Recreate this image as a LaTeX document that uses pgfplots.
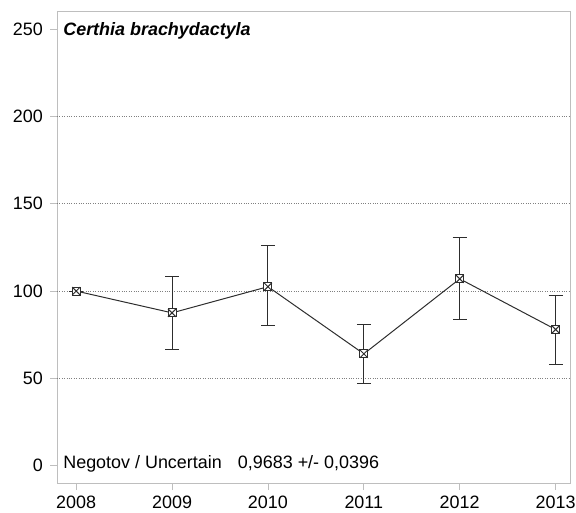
\documentclass[border=0pt]{standalone}
\usepackage{pgfplots}
\pgfplotsset{compat=1.18}
\usepackage{fontspec}
\setmainfont{Liberation Sans}
\definecolor{boxgray}{RGB}{190,190,190}
\definecolor{linegray}{RGB}{45,45,45}
\pgfdeclareplotmark{sqx}{%
  \pgfpathrectangle{\pgfpoint{-\pgfplotmarksize}{-\pgfplotmarksize}}{\pgfpoint{2\pgfplotmarksize}{2\pgfplotmarksize}}%
  \pgfusepathqfillstroke
  \pgfpathmoveto{\pgfpoint{-\pgfplotmarksize}{-\pgfplotmarksize}}%
  \pgfpathlineto{\pgfpoint{\pgfplotmarksize}{\pgfplotmarksize}}%
  \pgfpathmoveto{\pgfpoint{-\pgfplotmarksize}{\pgfplotmarksize}}%
  \pgfpathlineto{\pgfpoint{\pgfplotmarksize}{-\pgfplotmarksize}}%
  \pgfusepathqstroke}
\begin{document}
\fontsize{18}{21}\selectfont
\begin{tikzpicture}
\begin{axis}[
  name=ax,
  scale only axis,
  width=513bp, height=472bp,
  xmin=2007.8, xmax=2013.15,
  ymin=-10, ymax=260.5,
  xtick={2008,...,2013},
  ytick={0,50,...,250},
  extra y ticks={50,100,150,200},
  extra y tick labels={},
  extra y tick style={grid=major, major tick length=0pt},
  grid style={dotted, gray, line width=0.7pt},
  x tick label style={/pgf/number format/1000 sep={}},
  /pgf/number format/assume math mode=true,
  tick align=outside,
  major tick length=7bp,
  tick style={boxgray, line width=0.8pt},
  axis line style={boxgray, line width=0.8pt},
  xtick pos=bottom, ytick pos=left,
  tick label style={font=\fontsize{18}{21}\selectfont, black},
  yticklabel style={xshift=-1bp},
]
\addplot+[linegray, line width=1pt, mark=sqx, mark size=4pt,
  mark options={linegray, fill=white, line width=1pt},
  error bars/.cd, y dir=both, y explicit,
  error bar style={linegray, line width=1pt},
  error mark options={rotate=90, mark size=7bp, linegray, line width=1pt}]
coordinates {
  (2008,100) +- (0,0)
  (2009,87.5) += (0,21) -= (0,21)
  (2010,102.5) += (0,23.5) -= (0,22.5)
  (2011,64) += (0,17) -= (0,17)
  (2012,107) += (0,23.5) -= (0,23.5)
  (2013,78) += (0,19.5) -= (0,20)
};
\node[anchor=north west, font=\fontsize{18}{21}\selectfont\bfseries\itshape, inner sep=0pt]
  at (rel axis cs:0.012,0.975) {Certhia brachydactyla};
\node[anchor=base west, font=\fontsize{18}{21}\selectfont, inner sep=0pt]
  at (rel axis cs:0.012,0.03) {Negotov / Uncertain\hspace{0.9em}0,9683 +/- 0,0396};
\end{axis}
\pgfresetboundingbox
\path ([shift={(-57bp,-30bp)}]ax.south west) rectangle ([shift={(6bp,11bp)}]ax.north east);
\end{tikzpicture}
\end{document}
